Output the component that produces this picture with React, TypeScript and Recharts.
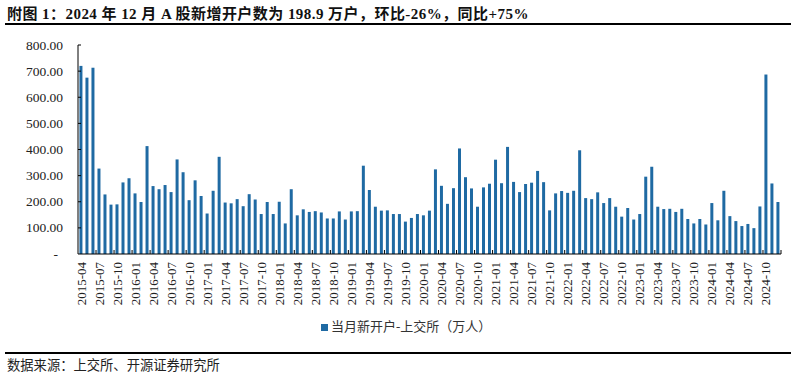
import React from "react";
import { BarChart, Bar, XAxis, YAxis } from "recharts";

const MONTHS: string[] = [
  "2015-04", "2015-05", "2015-06", "2015-07", "2015-08", "2015-09", "2015-10", "2015-11", "2015-12",
  "2016-01", "2016-02", "2016-03", "2016-04", "2016-05", "2016-06", "2016-07", "2016-08", "2016-09", "2016-10", "2016-11", "2016-12",
  "2017-01", "2017-02", "2017-03", "2017-04", "2017-05", "2017-06", "2017-07", "2017-08", "2017-09", "2017-10", "2017-11", "2017-12",
  "2018-01", "2018-02", "2018-03", "2018-04", "2018-05", "2018-06", "2018-07", "2018-08", "2018-09", "2018-10", "2018-11", "2018-12",
  "2019-01", "2019-02", "2019-03", "2019-04", "2019-05", "2019-06", "2019-07", "2019-08", "2019-09", "2019-10", "2019-11", "2019-12",
  "2020-01", "2020-02", "2020-03", "2020-04", "2020-05", "2020-06", "2020-07", "2020-08", "2020-09", "2020-10", "2020-11", "2020-12",
  "2021-01", "2021-02", "2021-03", "2021-04", "2021-05", "2021-06", "2021-07", "2021-08", "2021-09", "2021-10", "2021-11", "2021-12",
  "2022-01", "2022-02", "2022-03", "2022-04", "2022-05", "2022-06", "2022-07", "2022-08", "2022-09", "2022-10", "2022-11", "2022-12",
  "2023-01", "2023-02", "2023-03", "2023-04", "2023-05", "2023-06", "2023-07", "2023-08", "2023-09", "2023-10", "2023-11", "2023-12",
  "2024-01", "2024-02", "2024-03", "2024-04", "2024-05", "2024-06", "2024-07", "2024-08", "2024-09", "2024-10", "2024-11", "2024-12",
];

const NEW_ACCOUNTS: number[] = [
  720, 675, 713, 327, 228, 189, 190, 274, 290,
  232, 199, 413, 260, 248, 264, 237, 362, 313, 206, 282, 222,
  155, 242, 372, 197, 194, 210, 183, 229, 209, 153, 199, 153,
  200, 117, 248, 148, 171, 161, 164, 159, 136, 136, 163, 132,
  163, 164, 338, 245, 181, 166, 167, 153, 153, 124, 138, 153,
  148, 166, 324, 261, 192, 252, 404, 294, 251, 181, 255, 269,
  361, 271, 410, 276, 237, 268, 273, 318, 275, 167, 232, 241,
  234, 242, 397, 214, 210, 236, 195, 214, 181, 143, 176, 132,
  153, 296, 334, 181, 172, 173, 161, 173, 134, 117, 134, 113,
  195, 129, 242, 145, 126, 107, 115, 99, 182, 687, 270, 199,
];

const Y_TICKS: number[] = [0, 100, 200, 300, 400, 500, 600, 700, 800];

const TITLE = "附图 1：2024 年 12 月 A 股新增开户数为 198.9 万户，环比-26%，同比+75%";
const SERIES_NAME = "当月新开户-上交所（万人）";
const SOURCE = "数据来源：上交所、开源证券研究所";

const data = MONTHS.map((m, i) => ({ month: m, value: NEW_ACCOUNTS[i] }));

const W = 796;
const H = 379;
const PLOT_LEFT = 78;
const PLOT_RIGHT = 781;
const PLOT_TOP = 45;
const PLOT_BOTTOM = 254;
const X_AXIS_H = 60;
const BAND = (PLOT_RIGHT - PLOT_LEFT) / MONTHS.length;
const BAR_COLOR = "#1f6aa3";
const FONT = "'Liberation Serif', 'Times New Roman', 'Noto Sans CJK SC', serif";
const CJK = "'Liberation Serif', 'Noto Sans CJK SC', serif";

const YTick = (props: any) => {
  const { y, payload } = props;
  const v = payload.value;
  return (
    <g>
      {v !== 0 && <line x1={PLOT_LEFT} x2={PLOT_LEFT + 3} y1={y} y2={y} stroke="#000" strokeWidth={1} />}
      <text
        x={v === 0 ? 58 : 63}
        y={y}
        textAnchor="end"
        dominantBaseline="central"
        fontFamily={FONT}
        fontSize={13.5}
        fill="#222"
      >
        {v === 0 ? "-" : v.toFixed(2)}
      </text>
    </g>
  );
};

const XTick = (props: any) => {
  const { x, payload, index } = props;
  const ty = PLOT_BOTTOM + 8;
  const lx = x - BAND / 2;
  const isLast = payload.value === MONTHS[MONTHS.length - 3];
  return (
    <g>
      {index !== 0 && <line x1={lx} x2={lx} y1={PLOT_BOTTOM} y2={PLOT_BOTTOM - 4} stroke="#000" strokeWidth={1} />}
      {isLast && (
        <line x1={PLOT_RIGHT} x2={PLOT_RIGHT} y1={PLOT_BOTTOM} y2={PLOT_BOTTOM - 4} stroke="#000" strokeWidth={1} />
      )}
      <text
        x={x}
        y={ty}
        transform={`rotate(-90, ${x}, ${ty})`}
        textAnchor="end"
        dominantBaseline="central"
        fontFamily={FONT}
        fontSize={13}
        fill="#222"
      >
        {payload.value}
      </text>
    </g>
  );
};

export default function App() {
  return (
    <div
      style={{
        position: "absolute",
        left: 0,
        top: 0,
        width: W,
        height: H,
        background: "#fff",
        overflow: "hidden",
      }}
    >
      <div
        style={{
          position: "absolute",
          left: 7,
          top: 5,
          fontFamily: CJK,
          fontWeight: "bold",
          fontSize: 15,
          letterSpacing: 0.45,
          lineHeight: "18px",
          color: "#111",
          whiteSpace: "pre",
        }}
      >
        {TITLE}
      </div>
      <div style={{ position: "absolute", left: 5, top: 23, width: 786, height: 1.5, background: "#000" }} />

      <div style={{ position: "absolute", left: 0, top: 0 }}>
        <BarChart
          width={W}
          height={H}
          data={data}
          margin={{ top: PLOT_TOP, right: W - PLOT_RIGHT, left: 0, bottom: H - PLOT_BOTTOM - X_AXIS_H }}
          barCategoryGap="24%"
        >
          <XAxis
            dataKey="month"
            interval={2}
            height={X_AXIS_H}
            tickLine={false}
            axisLine={{ stroke: "#000", strokeWidth: 1 }}
            tick={<XTick />}
          />
          <YAxis
            width={PLOT_LEFT}
            domain={[0, 800]}
            ticks={Y_TICKS}
            tickLine={false}
            axisLine={{ stroke: "#000", strokeWidth: 1 }}
            tick={<YTick />}
          />
          <Bar dataKey="value" name={SERIES_NAME} fill={BAR_COLOR} isAnimationActive={false} />
        </BarChart>
      </div>

      <div
        style={{
          position: "absolute",
          left: 321,
          top: 319,
          display: "flex",
          alignItems: "center",
          fontFamily: CJK,
          fontSize: 13,
          color: "#333",
          whiteSpace: "pre",
        }}
      >
        <span style={{ display: "inline-block", width: 7, height: 7, background: BAR_COLOR, marginRight: 3 }} />
        <span style={{ lineHeight: "16px" }}>{SERIES_NAME}</span>
      </div>

      <div style={{ position: "absolute", left: 5, top: 352, width: 786, height: 1.5, background: "#000" }} />
      <div
        style={{
          position: "absolute",
          left: 7,
          top: 358,
          fontFamily: CJK,
          fontSize: 13.3,
          lineHeight: "16px",
          color: "#222",
          whiteSpace: "pre",
        }}
      >
        {SOURCE}
      </div>
    </div>
  );
}
